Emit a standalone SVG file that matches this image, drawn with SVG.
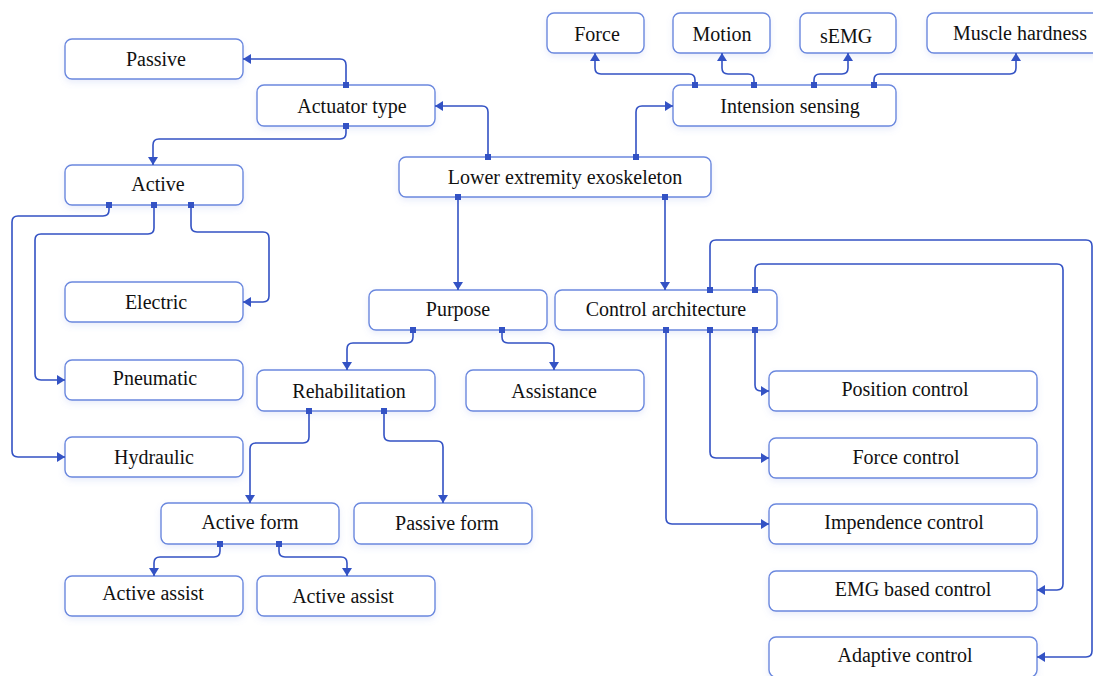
<svg xmlns="http://www.w3.org/2000/svg" width="1093" height="676" viewBox="0 0 1093 676">
<style>
.box{fill:#fff;stroke:#6b88de;stroke-width:1.4;filter:url(#sh)}
.lbl{font-family:"Liberation Serif","Times New Roman",serif;font-size:20px;fill:#111;text-anchor:middle;dominant-baseline:central}
.c{fill:none;stroke:#3352c4;stroke-width:1.6;marker-start:url(#port);marker-end:url(#arr)}
</style>
<defs>
<filter id="sh" x="-10%" y="-30%" width="120%" height="170%">
<feDropShadow dx="0" dy="3" stdDeviation="3" flood-color="#6b88de" flood-opacity="0.15"/>
</filter>
<marker id="arr" viewBox="0 0 8 10" refX="8" refY="5" markerWidth="8" markerHeight="10" markerUnits="userSpaceOnUse" orient="auto">
<path d="M0 0L8 5L0 10z" fill="#3352c4"/>
</marker>
<marker id="port" viewBox="0 0 6 6" refX="3" refY="3" markerWidth="6" markerHeight="6" markerUnits="userSpaceOnUse" orient="0">
<rect width="6" height="6" fill="#3352c4"/>
</marker>
</defs>
<rect width="1093" height="676" fill="#fff"/>
<g id="passive"><rect class="box" x="65" y="39" width="178" height="40" rx="7"/><text class="lbl" x="156" y="59">Passive</text></g>
<g id="actuator-type"><rect class="box" x="257" y="85" width="178" height="41" rx="7"/><text class="lbl" x="352" y="106">Actuator type</text></g>
<g id="active"><rect class="box" x="65" y="165" width="178" height="40" rx="7"/><text class="lbl" x="158" y="184">Active</text></g>
<g id="lower-extremity"><rect class="box" x="399" y="157" width="312" height="40" rx="7"/><text class="lbl" x="565" y="177">Lower extremity exoskeleton</text></g>
<g id="force"><rect class="box" x="547" y="13" width="97" height="40" rx="7"/><text class="lbl" x="597" y="34">Force</text></g>
<g id="motion"><rect class="box" x="673" y="13" width="97" height="40" rx="7"/><text class="lbl" x="722" y="34">Motion</text></g>
<g id="semg"><rect class="box" x="800" y="13" width="96" height="40" rx="7"/><text class="lbl" x="846" y="36">sEMG</text></g>
<g id="muscle-hardness"><rect class="box" x="927" y="13" width="178" height="40" rx="7"/><text class="lbl" x="1020" y="33">Muscle hardness</text></g>
<g id="intension-sensing"><rect class="box" x="673" y="85" width="223" height="41" rx="7"/><text class="lbl" x="790" y="106">Intension sensing</text></g>
<g id="electric"><rect class="box" x="65" y="282" width="178" height="40" rx="7"/><text class="lbl" x="156" y="302">Electric</text></g>
<g id="pneumatic"><rect class="box" x="65" y="360" width="178" height="40" rx="7"/><text class="lbl" x="155" y="378">Pneumatic</text></g>
<g id="hydraulic"><rect class="box" x="65" y="437" width="178" height="40" rx="7"/><text class="lbl" x="154" y="457">Hydraulic</text></g>
<g id="purpose"><rect class="box" x="369" y="290" width="178" height="40" rx="7"/><text class="lbl" x="458" y="309">Purpose</text></g>
<g id="control-architecture"><rect class="box" x="555" y="290" width="222" height="40" rx="7"/><text class="lbl" x="666" y="309">Control architecture</text></g>
<g id="rehabilitation"><rect class="box" x="257" y="370" width="178" height="41" rx="7"/><text class="lbl" x="349" y="391">Rehabilitation</text></g>
<g id="assistance"><rect class="box" x="466" y="370" width="178" height="41" rx="7"/><text class="lbl" x="554" y="391">Assistance</text></g>
<g id="active-form"><rect class="box" x="161" y="503" width="178" height="41" rx="7"/><text class="lbl" x="250" y="522">Active form</text></g>
<g id="passive-form"><rect class="box" x="354" y="503" width="178" height="41" rx="7"/><text class="lbl" x="447" y="523">Passive form</text></g>
<g id="active-assist-1"><rect class="box" x="65" y="576" width="178" height="40" rx="7"/><text class="lbl" x="153" y="593">Active assist</text></g>
<g id="active-assist-2"><rect class="box" x="257" y="576" width="178" height="40" rx="7"/><text class="lbl" x="343" y="596">Active assist</text></g>
<g id="position-control"><rect class="box" x="769" y="371" width="268" height="40" rx="7"/><text class="lbl" x="905" y="389">Position control</text></g>
<g id="force-control"><rect class="box" x="769" y="438" width="268" height="40" rx="7"/><text class="lbl" x="906" y="457">Force control</text></g>
<g id="impendence-control"><rect class="box" x="769" y="504" width="268" height="40" rx="7"/><text class="lbl" x="904" y="522">Impendence control</text></g>
<g id="emg-control"><rect class="box" x="769" y="571" width="268" height="40" rx="7"/><text class="lbl" x="913" y="589">EMG based control</text></g>
<g id="adaptive-control"><rect class="box" x="769" y="637" width="268" height="40" rx="7"/><text class="lbl" x="905" y="655">Adaptive control</text></g>
<g id="connectors">
<path class="c" d="M346 85V65Q346 59 340 59H243"/>
<path class="c" d="M346 126V133Q346 139 340 139H159Q153 139 153 145V165"/>
<path class="c" d="M488 157V112Q488 106 482 106H435"/>
<path class="c" d="M636 157V112Q636 106 642 106H673"/>
<path class="c" d="M695 85V80Q695 74 689 74H601Q595 74 595 68V53"/>
<path class="c" d="M754 85V80Q754 74 748 74H728Q722 74 722 68V53"/>
<path class="c" d="M814 85V80Q814 74 820 74H842Q848 74 848 68V53"/>
<path class="c" d="M874 85V80Q874 74 880 74H1010Q1016 74 1016 68V53"/>
<path class="c" d="M458 197V290"/>
<path class="c" d="M665 197V290"/>
<path class="c" d="M109 205V210Q109 216 103 216H18Q12 216 12 222V451Q12 457 18 457H65"/>
<path class="c" d="M154 205V228Q154 234 148 234H41Q35 234 35 240V374Q35 380 41 380H65"/>
<path class="c" d="M191 205V226Q191 232 197 232H263Q269 232 269 238V296Q269 302 263 302H243"/>
<path class="c" d="M413 330V337Q413 343 407 343H353Q347 343 347 349V370"/>
<path class="c" d="M502 330V337Q502 343 508 343H548Q554 343 554 349V370"/>
<path class="c" d="M309 411V437Q309 443 303 443H256Q250 443 250 449V503"/>
<path class="c" d="M384 411V435Q384 441 390 441H437Q443 441 443 447V503"/>
<path class="c" d="M220 544V551Q220 557 214 557H160Q154 557 154 563V576"/>
<path class="c" d="M279 544V551Q279 557 285 557H341Q347 557 347 563V576"/>
<path class="c" d="M710 290V246Q710 240 716 240H1086Q1092 240 1092 246V651Q1092 657 1086 657H1037"/>
<path class="c" d="M755 290V270Q755 264 761 264H1057Q1063 264 1063 270V584Q1063 590 1057 590H1037"/>
<path class="c" d="M755 330V385Q755 391 761 391H769"/>
<path class="c" d="M710 330V452Q710 458 716 458H769"/>
<path class="c" d="M666 330V518Q666 524 672 524H769"/>
</g>
</svg>
